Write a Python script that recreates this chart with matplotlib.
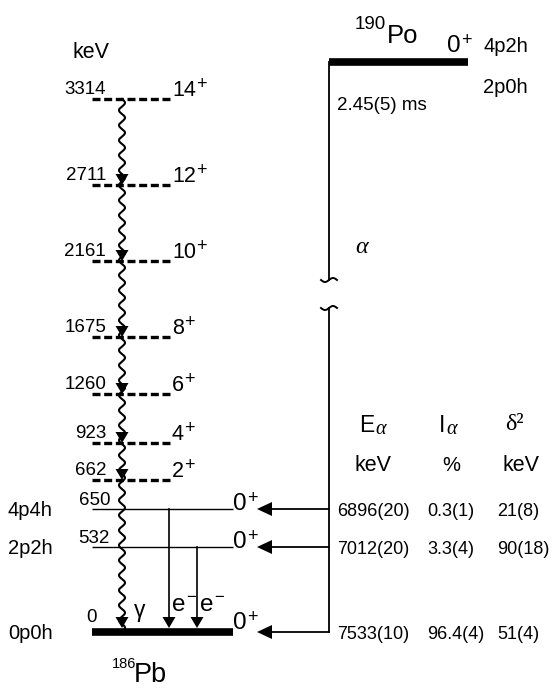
import numpy as np
import matplotlib
matplotlib.use('Agg')
import matplotlib.pyplot as plt
from matplotlib.patches import Polygon

plt.rcParams['font.family'] = ['Liberation Sans', 'DejaVu Sans']

# ---------------- data ----------------
band_energies = [3314, 2711, 2161, 1675, 1260, 923, 662]
band_spins = ['14', '12', '10', '8', '6', '4', '2']
zero_energies = [650, 532, 0]
zero_configs = ['4p4h', '2p2h', '0p0h']
alpha_E = ['6896(20)', '7012(20)', '7533(10)']
alpha_I = ['0.3(1)', '3.3(4)', '96.4(4)']
delta2 = ['21(8)', '90(18)', '51(4)']
parent_name = ('190', 'Po')
parent_spin = '0'
parent_halflife = '2.45(5) ms'
parent_configs = ['4p2h', '2p0h']
daughter_name = ('186', 'Pb')
ce_levels = [650, 532]   # E0 conversion-electron transitions to ground state

# ---------------- layout (pixel positions) ----------------
band_y = [99, 185, 261, 337, 394, 443, 480]
zero_y = [509, 547, 632]
x0, x1 = 92, 233          # level line extent
band_x1 = 170
gx = 122                   # gamma cascade x
ce_x = [169, 197]
px0, px1, py = 329, 468, 62  # parent level

fig = plt.figure(figsize=(5.52, 6.89), dpi=100)
ax = fig.add_axes([0, 0, 1, 1])
ax.set_xlim(0, 552)
ax.set_ylim(689, 0)
ax.axis('off')

FS = 13.5

def down_head(x, y, w=6.5, h=11):
    ax.add_patch(Polygon([[x - w, y - h], [x + w, y - h], [x, y]], closed=True,
                         color='black', lw=0))

def left_head(x, y, w=7, h=15):
    ax.add_patch(Polygon([[x + h, y - w], [x + h, y + w], [x, y]], closed=True,
                         color='black', lw=0))

def sup_label(x, y, base, sup, fs, sfs=None, dx=0.5, dy=-0.5):
    t = ax.text(x, y, base, fontsize=fs, ha='left', va='baseline')
    ax.annotate(sup, xy=(1.0, 1.0), xycoords=t, xytext=(dx, dy), textcoords='offset points',
                fontsize=sfs if sfs else fs * 0.72, ha='left', va='top')

# band levels (dashed)
for e, s, y in zip(band_energies, band_spins, band_y):
    ax.plot([x0, band_x1], [y, y], color='black', lw=2.4, linestyle=(0, (2.4, 1.1)),
            solid_capstyle='butt', dash_capstyle='butt')
    ax.text(106, y - 5, str(e), fontsize=FS, ha='right', va='baseline')
    sup_label(172, y - 3, s, '+', FS + 2, 13, dx=0.3, dy=3)

# 0+ levels
zero_lw = [1.0, 1.0, 5.5]
zero_lab_dy = [-4, -4, -10]
zero_lab_x = [110, 110, 97]
for e, c, y, lw, dy, lx in zip(zero_energies, zero_configs, zero_y, zero_lw,
                               zero_lab_dy, zero_lab_x):
    ax.plot([x0, x1], [y, y], color='black', lw=lw, solid_capstyle='butt')
    ax.text(lx, y + dy, str(e), fontsize=FS, ha='right', va='baseline')
    ax.text(8, y + 7, c, fontsize=FS + 1, ha='left', va='baseline')
    sup_label(x1, y + (1 if lw < 2 else -3), '0', '+', FS + 4, 13, dx=0.3, dy=2.5)

# gamma cascade (wavy)
yy = np.linspace(band_y[0], zero_y[-1], 1500)
xx = gx + 3.0 * np.sin(2 * np.pi * (yy - band_y[0]) / 15.0)
ax.plot(xx, yy, color='black', lw=1.5)
for y in band_y[1:] + [zero_y[-1]]:
    down_head(gx, y if y != zero_y[-1] else y - 4)
ax.text(134, 617, 'γ', fontsize=FS + 3, ha='left', va='baseline')

# conversion electron transitions
for lev, x in zip(ce_levels, ce_x):
    ys = zero_y[zero_energies.index(lev)]
    ax.plot([x, x], [ys, zero_y[-1] - 10], color='black', lw=1.2)
    down_head(x, zero_y[-1] - 4)
    sup_label(x + 3, 611, 'e', '\u2212', FS + 4, 12, dx=0.8, dy=3)

# parent level
ax.plot([px0, px1], [py, py], color='black', lw=5.5, solid_capstyle='butt')
ax.text(355, 29, parent_name[0], fontsize=FS, ha='left', va='baseline')
ax.text(387, 43, parent_name[1], fontsize=FS + 5, ha='left', va='baseline')
sup_label(447, 52, parent_spin, '+', FS + 4, 13, dx=0.3, dy=2.5)
ax.text(483, 52, parent_configs[0], fontsize=FS + 1, ha='left', va='baseline')
ax.text(483, 93, parent_configs[1], fontsize=FS + 1, ha='left', va='baseline')
ax.text(337, 110, parent_halflife, fontsize=FS, ha='left', va='baseline')

# alpha decay line with break
ax.plot([px0, px0], [py, 280], color='black', lw=1.3)
ax.plot([px0, px0], [308, zero_y[-1]], color='black', lw=1.3)
tt = np.linspace(-1, 1, 50)
for yb in [280, 308]:
    ax.plot(px0 + 8 * tt, yb - 2.0 * np.sin(np.pi * tt), color='black', lw=1.4)
ax.text(355, 253, 'α', fontsize=FS + 4, ha='left', va='baseline',
        family=['Liberation Serif'], style='italic')
for y in zero_y:
    ax.plot([px0, 270], [y, y], color='black', lw=1.3)
    left_head(257, y)

# table
ax.text(359, 432, 'E', fontsize=FS + 3, ha='left', va='baseline')
ax.text(375, 434, 'α', fontsize=FS + 1, ha='left', va='baseline', family=['Liberation Serif'],
        style='italic')
ax.text(439, 432, 'I', fontsize=FS + 3, ha='left', va='baseline')
ax.text(446, 434, 'α', fontsize=FS + 1, ha='left', va='baseline', family=['Liberation Serif'],
        style='italic')
ax.text(505, 430, 'δ²', fontsize=FS + 4, ha='left', va='baseline', family=['Liberation Serif'])
ax.text(373, 471, 'keV', fontsize=FS + 2, ha='center', va='baseline')
ax.text(451, 471, '%', fontsize=FS + 1, ha='center', va='baseline')
ax.text(521, 471, 'keV', fontsize=FS + 2, ha='center', va='baseline')
for y, a, b, c in zip(zero_y, alpha_E, alpha_I, delta2):
    ax.text(337, y + 7, a, fontsize=FS - 0.5, ha='left', va='baseline')
    ax.text(427, y + 7, b, fontsize=FS - 0.5, ha='left', va='baseline')
    ax.text(497, y + 7, c, fontsize=FS - 0.5, ha='left', va='baseline')

# daughter label
ax.text(112, 668, daughter_name[0], fontsize=FS - 3, ha='left', va='baseline')
ax.text(134, 682, daughter_name[1], fontsize=FS + 6, ha='left', va='baseline')

ax.text(73, 58, 'keV', fontsize=FS + 2, ha='left', va='baseline')

fig.savefig('out.png', dpi=100)
